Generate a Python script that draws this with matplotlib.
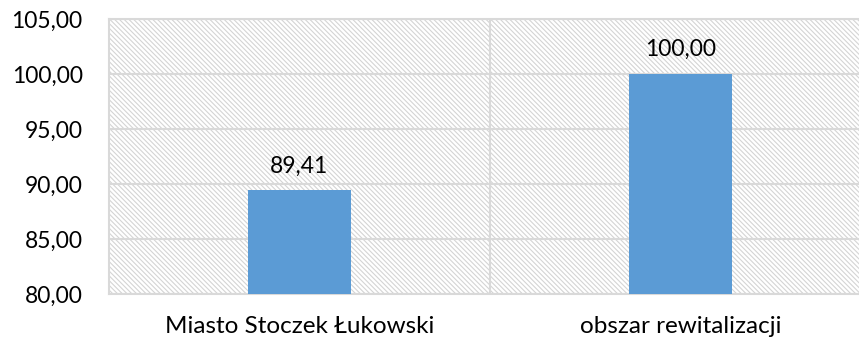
import matplotlib.pyplot as plt
from matplotlib.patches import Rectangle
from matplotlib.ticker import FuncFormatter

categories = ['Miasto Stoczek Łukowski', 'obszar rewitalizacji']
values = [89.41, 100.00]
y_ticks = [80, 85, 90, 95, 100, 105]

grid_color = '#d9d9d9'
hatch_color = '#d4d4d4'
bar_color = '#5b9bd5'

plt.rcParams['font.family'] = ['Lato', 'DejaVu Sans']
plt.rcParams['hatch.color'] = hatch_color
plt.rcParams['hatch.linewidth'] = 0.8

fig = plt.figure(figsize=(8.59, 3.42), dpi=100)
# plot area runs past the right edge of the figure
ax = fig.add_axes([0.1269, 0.1404, 0.887, 0.804])

def pl(v, pos=None):
    return f'{v:.2f}'.replace('.', ',')

# hatched plot-area background
ax.add_patch(Rectangle((0, 0), 1, 1, transform=ax.transAxes, fill=False,
                       hatch='\\' * 7, edgecolor=hatch_color, lw=0, zorder=0))

x = range(len(categories))
bars = ax.bar(x, values, width=0.27, color=bar_color, zorder=3)
for b, v in zip(bars, values):
    ax.annotate(pl(v), (b.get_x() + b.get_width() / 2, v), xytext=(0, 10),
                textcoords='offset points', ha='center', va='bottom', fontsize=16.5)

ax.set_xlim(-0.5, len(categories) - 0.5)
ax.set_ylim(80, 105)
ax.set_yticks(y_ticks)
ax.yaxis.set_major_formatter(FuncFormatter(pl))
ax.set_xticks(list(x))
ax.set_xticklabels(categories)
ax.tick_params(length=0, labelsize=16.5, colors='black')
ax.tick_params(axis='y', pad=19)
ax.tick_params(axis='x', pad=16, labelsize=17.5)

ax.grid(axis='y', color=grid_color, lw=1.5, zorder=1)
ax.axvline(0.5, color=grid_color, lw=1.5, zorder=1)
for s in ax.spines.values():
    s.set_color(grid_color)
    s.set_linewidth(1.5)

fig.savefig('out.png', dpi=100)
